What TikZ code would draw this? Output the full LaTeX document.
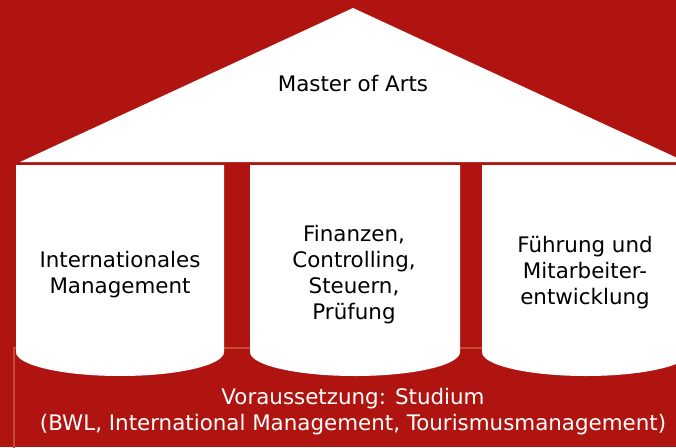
\documentclass[tikz,border=0pt]{standalone}
\usepackage{fontspec}
\setmainfont{DejaVu Sans}
\usetikzlibrary{positioning}
\definecolor{houseRed}{RGB}{176,20,16}
\definecolor{seamRed}{RGB}{200,74,52}

\begin{document}
\begin{tikzpicture}[x=1pt,y=-1pt,
			every node/.style={font=\fontsize{21.4}{26}\selectfont,align=center,inner sep=0pt}]
			\tikzstyle{pillar}=[fill=white]
			\tikzstyle{inside}=[text=black]
			\tikzstyle{below}=[text=white]
			
			\useasboundingbox (0,0) rectangle (676,447);
			\clip (0,0) rectangle (676,447);
			\fill[houseRed] (0,0) rectangle (676,447);
			
			% plinth seam behind the pillars
			\coordinate (seamB) at (14,460);
			\coordinate (seamC) at (14,348);
			\coordinate (seamE) at (700,348);
			\draw[seamRed,line width=1.2pt] (seamB) -- (seamC) -- (seamE);
			
			% roof
			\coordinate (eaveL) at (20,162);
			\coordinate (ridge) at (353,8);
			\coordinate (eaveR) at (686,162);
			\fill[white] (eaveL) -- (ridge) -- (eaveR) -- cycle;
			
			% pillars
			\foreach \l/\r in {16/224,250/460,482/690}
			\fill[pillar] (\l,165) -- (\l,352)
			arc[start angle=180,end angle=0,x radius={(\r-\l)/2},y radius=24]
			-- (\r,165) -- cycle;
			
			\node[inside] (master) at (353,84)  {Master of Arts};
			\node[inside] (intl)   at (120,275) {Internationales\\Management};
			\node[inside] (fin)    at (354,275) {Finanzen,\\Controlling,\\Steuern,\\Prüfung};
			\node[inside] (lead)   at (585,273) {Führung und\\Mitarbeiter-\\entwicklung};
			\node[below]  (basis)  at (353,412) {Voraussetzung: Studium\\(BWL, International Management, Tourismusmanagement)};
			\end{tikzpicture}
\end{document}
